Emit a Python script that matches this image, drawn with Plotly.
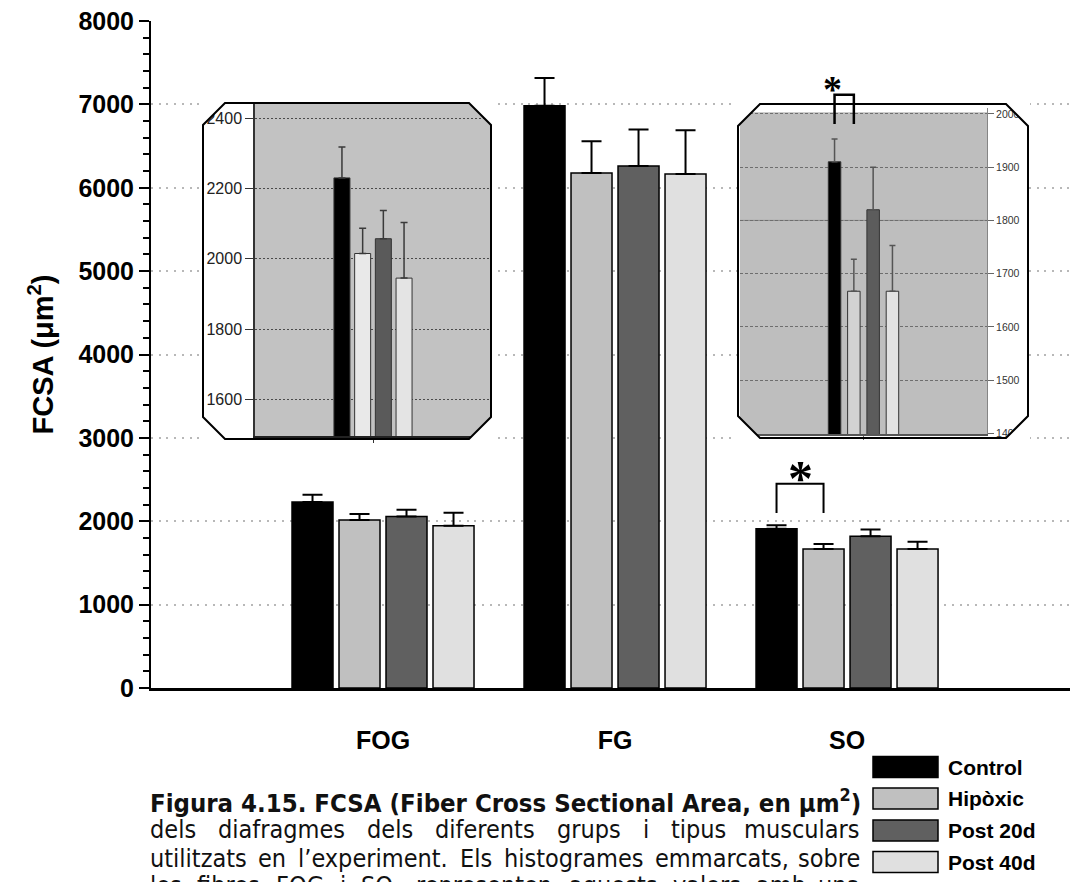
import plotly.graph_objects as go

# ---------------- data ----------------
fiber_types = ["FOG", "FG", "SO"]
group_names = ["Control", "Hipòxic", "Post 20d", "Post 40d"]

control_mean = [2230, 6985, 1910]
hipoxic_mean = [2015, 6178, 1667]
post20_mean = [2057, 6260, 1820]
post40_mean = [1945, 6165, 1667]

control_sem = [88, 330, 43]
hipoxic_sem = [72, 380, 60]
post20_sem = [80, 440, 80]
post40_sem = [158, 525, 86]

main_y_ticks = [0, 1000, 2000, 3000, 4000, 5000, 6000, 7000, 8000]
fog_zoom_ticks = [1600, 1800, 2000, 2200, 2400]
so_zoom_ticks = [1400, 1500, 1600, 1700, 1800, 1900, 2000]

# significance bracket Control vs Hipòxic on SO fibres (low leg end, top)
so_bracket_main = [2100, 2450]
so_bracket_zoom = [1981, 2036]

caption_title = "Figura 4.15. FCSA (Fiber Cross Sectional Area, en μm<sup>2</sup>)"
caption_body = [
    "dels diafragmes dels diferents grups i tipus musculars",
    "utilitzats en l’experiment. Els histogrames emmarcats, sobre",
    "les fibres FOG i SO, representen aquests valors amb una",
]

means = [control_mean, hipoxic_mean, post20_mean, post40_mean]
sems = [control_sem, hipoxic_sem, post20_sem, post40_sem]

# ---------------- styles ----------------
main_colors = ["#000000", "#c0c0c0", "#606060", "#e0e0e0"]
fog_zoom_colors = ["#000000", "#e9e9e9", "#5a5a5a", "#e4e4e4"]
so_zoom_colors = ["#000000", "#d2d2d2", "#5c5c5c", "#e2e2e2"]

ARIAL = "Liberation Sans, Arial, sans-serif"
CAPTION_FONT = "DejaVu Sans Condensed, DejaVu Sans, sans-serif"
SERIF = "Liberation Serif, Times New Roman, serif"

W, H = 1070, 882
ML, MR, MT, MB = 151, 0, 21, 194
PW, PH = W - ML - MR, H - MT - MB


def px_x(px):
    return (px - ML) / PW


def px_y(py):
    return (H - MB - py) / PH


fig = go.Figure()

# ---------------- main grouped bars ----------------
X_RANGE = [-1.0, 2.961]
pitch = 47 / 232
bar_w = 41 / 232
xpos = list(range(len(fiber_types)))
for i, name in enumerate(group_names):
    fig.add_trace(go.Bar(
        x=xpos, y=means[i], name=name,
        width=bar_w, offset=(i - 1.5) * pitch - bar_w / 2,
        marker=dict(color=main_colors[i], line=dict(color="black", width=1.5)),
        error_y=dict(type="data", array=sems[i], arrayminus=[0] * len(xpos),
                     symmetric=False, color="black", thickness=2, width=10),
        hoverinfo="skip", showlegend=False,
    ))

# significance bracket on the SO group
so_idx = fiber_types.index("SO")
xa_b = so_idx + (0 - 1.5) * pitch
xb_b = so_idx + (1 - 1.5) * pitch
fig.add_trace(go.Scatter(
    x=[xa_b, xa_b, xb_b, xb_b],
    y=[so_bracket_main[0], so_bracket_main[1], so_bracket_main[1], so_bracket_main[0]],
    mode="lines", line=dict(color="black", width=2),
    hoverinfo="skip", showlegend=False,
))
fig.add_annotation(x=(xa_b + xb_b) / 2, y=so_bracket_main[1], xref="x", yref="y",
                   text="*", showarrow=False, yanchor="middle", yshift=6,
                   font=dict(family=SERIF, size=50, color="black", weight="bold"))

# ---------------- inset panels ----------------
# frame boxes (pixel-space axes) : left, right, top, bottom, corner cut
frames = {
    "fog": dict(ax=("x2", "y2"), box=(203, 491, 103, 439), cut=22),
    "so": dict(ax=("x4", "y4"), box=(738, 1028, 104, 438), cut=22),
}

for key, fr in frames.items():
    fig.add_trace(go.Scatter(x=[], y=[], xaxis=fr["ax"][0], yaxis=fr["ax"][1],
                             hoverinfo="skip", showlegend=False))


def octagon(l, r, t, b, c):
    return (f"M {l + c},{t} L {r - c},{t} L {r},{t + c} L {r},{b - c} "
            f"L {r - c},{b} L {l + c},{b} L {l},{b - c} L {l},{t + c} Z")


def corners(l, r, t, b, c, e=2):
    return [
        f"M {l - e},{t - e} L {l + c + e},{t - e} L {l - e},{t + c + e} Z",
        f"M {r + e},{t - e} L {r - c - e},{t - e} L {r + e},{t + c + e} Z",
        f"M {r + e},{b + e} L {r - c - e},{b + e} L {r + e},{b - c - e} Z",
        f"M {l - e},{b + e} L {l + c + e},{b + e} L {l - e},{b - c - e} Z",
    ]


# zoomed bars
def add_zoom(k, xa, ya, colors, z_pitch, z_w, err_w, err_col):
    for i, name in enumerate(group_names):
        fig.add_trace(go.Bar(
            x=[0], y=[means[i][k]], name=name, xaxis=xa, yaxis=ya,
            width=z_w, offset=(i - 1.5) * z_pitch - z_w / 2,
            marker=dict(color=colors[i], line=dict(color="#333333", width=1)),
            error_y=dict(type="data", array=[sems[i][k]], arrayminus=[0],
                         symmetric=False, color=err_col, thickness=1.5, width=err_w),
            hoverinfo="skip", showlegend=False,
        ))


FOG_X = (255, 491)
FOG_Y = (436, 103)
FOG_YR = [1496, 2443]
SO_X = (740, 987)
SO_Y = (434, 108)
SO_YR = [1399, 2011]

fog_pitch, fog_w = 20.7 / (FOG_X[1] - FOG_X[0]), 16 / (FOG_X[1] - FOG_X[0])
so_pitch, so_w = 19.3 / (SO_X[1] - SO_X[0]), 12.5 / (SO_X[1] - SO_X[0])

add_zoom(fiber_types.index("FOG"), "x3", "y3", fog_zoom_colors, fog_pitch, fog_w, 3.5, "#3a3a3a")
add_zoom(so_idx, "x5", "y5", so_zoom_colors, so_pitch, so_w, 3, "#555555")

shapes = []
# white inset cards
for fr in frames.values():
    l, r, t, b = fr["box"]
    shapes.append(dict(type="path", xref=fr["ax"][0], yref=fr["ax"][1], layer="below",
                       path=octagon(l, r, t, b, fr["cut"]), fillcolor="white",
                       line=dict(width=0)))
# grey plotting areas
shapes.append(dict(type="rect", xref="x3", yref="y3", layer="below",
                   x0=-0.5, x1=0.5, y0=FOG_YR[0], y1=FOG_YR[1],
                   fillcolor="#c2c2c2", line=dict(width=0)))
shapes.append(dict(type="rect", xref="x5", yref="y5", layer="below",
                   x0=-0.5, x1=0.5, y0=SO_YR[0], y1=2003,
                   fillcolor="#bebebe", line=dict(width=0)))
shapes.append(dict(type="line", xref="x5", yref="y5", layer="below",
                   x0=-0.5, x1=0.5, y0=1800, y1=1800,
                   line=dict(color="#8a8a8a", width=1)))
# cut corners and outlines
for fr in frames.values():
    l, r, t, b = fr["box"]
    for p in corners(l, r, t, b, fr["cut"]):
        shapes.append(dict(type="path", xref=fr["ax"][0], yref=fr["ax"][1], layer="above",
                           path=p, fillcolor="white", line=dict(width=0)))
    shapes.append(dict(type="path", xref=fr["ax"][0], yref=fr["ax"][1], layer="above",
                       path=octagon(l, r, t, b, fr["cut"]), fillcolor="rgba(0,0,0,0)",
                       line=dict(color="black", width=2)))

# bracket on the SO inset, mapped through the inset axes
so_xdom = [px_x(SO_X[0]), px_x(SO_X[1])]
so_ydom = [px_y(SO_Y[0]), px_y(SO_Y[1])]


def so_x_paper(v):
    return so_xdom[0] + (v + 0.5) * (so_xdom[1] - so_xdom[0])


def so_y_paper(v):
    return so_ydom[0] + (v - SO_YR[0]) / (SO_YR[1] - SO_YR[0]) * (so_ydom[1] - so_ydom[0])


zx0 = so_x_paper((0 - 1.5) * so_pitch)
zx1 = so_x_paper((1 - 1.5) * so_pitch)
zy0, zy1 = so_y_paper(so_bracket_zoom[0]), so_y_paper(so_bracket_zoom[1])
shapes.append(dict(type="path", xref="paper", yref="paper", layer="above",
                   path=f"M {zx0},{zy0} L {zx0},{zy1} L {zx1},{zy1} L {zx1},{zy0}",
                   line=dict(color="black", width=2.5)))
fig.add_annotation(x=(zx0 + zx1) / 2, y=zy1, xref="paper", yref="paper", text="*",
                   showarrow=False, yanchor="middle", yshift=6,
                   font=dict(family=SERIF, size=38, color="black", weight="bold"))

# ---------------- legend ----------------
leg_x0, leg_x1 = 873, 938
leg_rows = [767, 798.5, 830.5, 862]
for i, name in enumerate(group_names):
    yc = leg_rows[i]
    shapes.append(dict(type="rect", xref="paper", yref="paper", layer="above",
                       x0=px_x(leg_x0), x1=px_x(leg_x1),
                       y0=px_y(yc + 10.5), y1=px_y(yc - 10.5),
                       fillcolor=main_colors[i], line=dict(color="black", width=1.5)))
    fig.add_annotation(x=px_x(946), y=px_y(yc), xref="paper", yref="paper",
                       text=f"<b>{name}</b>", showarrow=False,
                       xanchor="left", yanchor="middle",
                       font=dict(family=ARIAL, size=21, color="black"))

# ---------------- caption ----------------
WIDTHS = {
    'a': .613, 'b': .635, 'c': .550, 'd': .635, 'e': .615, 'f': .352, 'g': .635,
    'h': .634, 'i': .278, 'j': .278, 'k': .579, 'l': .278, 'm': .974, 'n': .634,
    'o': .612, 'p': .635, 'q': .635, 'r': .411, 's': .521, 't': .392, 'u': .634,
    'v': .592, 'w': .818, 'x': .592, 'y': .592, 'z': .525, 'E': .632, 'F': .575,
    'G': .775, 'O': .787, 'S': .635, '.': .318, ',': .318, '’': .318,
}
CAP_SIZE = 25
CAP_SCALE = 0.9
CAP_LEFT, CAP_RIGHT = 148, 862
cap_mid = [801, 830, 858.5, 886]


def word_w(w):
    return sum(WIDTHS.get(ch, 0.6) for ch in w) * CAP_SIZE * CAP_SCALE


fig.add_annotation(x=px_x(CAP_LEFT), y=px_y(cap_mid[0]), xref="paper", yref="paper",
                   text=f"<b>{caption_title}</b>", showarrow=False,
                   xanchor="left", yanchor="middle",
                   font=dict(family=CAPTION_FONT, size=25.5, color="#111111"))
for li, line in enumerate(caption_body):
    words = line.split(" ")
    widths = [word_w(w) for w in words]
    gap = (CAP_RIGHT - CAP_LEFT - sum(widths)) / (len(words) - 1)
    x = CAP_LEFT
    for wi, w in enumerate(words):
        last = wi == len(words) - 1
        fig.add_annotation(x=px_x(CAP_RIGHT if last else x), y=px_y(cap_mid[li + 1]),
                           xref="paper", yref="paper", text=w, showarrow=False,
                           xanchor="right" if last else "left", yanchor="middle",
                           font=dict(family=CAPTION_FONT, size=CAP_SIZE, color="#111111"))
        x += widths[wi] + gap

# ---------------- axes & layout ----------------
bold = dict(family=ARIAL, size=25, color="black", weight="bold")
fig.update_layout(
    width=W, height=H, template="none",
    margin=dict(l=ML, r=MR, t=MT, b=MB, pad=0),
    paper_bgcolor="white", plot_bgcolor="rgba(0,0,0,0)",
    barmode="overlay", showlegend=False, hovermode=False,
    font=dict(family=ARIAL),
    shapes=shapes,
    xaxis=dict(domain=[0, 1], range=X_RANGE, tickvals=xpos, ticktext=fiber_types,
               ticks="", showline=True, linecolor="black", linewidth=2.5,
               showgrid=False, zeroline=False, tickfont=bold, ticklabelstandoff=28,
               fixedrange=True, automargin=False),
    yaxis=dict(domain=[0, 1], range=[0, 8000], tickvals=main_y_ticks,
               ticks="outside", ticklen=10, tickwidth=2, tickcolor="black",
               minor=dict(dtick=200, tick0=0, ticks="outside", ticklen=6, tickwidth=2,
                          tickcolor="black", showgrid=False),
               showline=True, linecolor="black", linewidth=2,
               showgrid=True, gridcolor="#b8b8b8", gridwidth=1.5, griddash="2px,5.7px",
               zeroline=False, tickfont=bold, fixedrange=True, automargin=False,
               title=dict(text="<b>FCSA (μm<sup>2</sup>)</b>", standoff=16,
                          font=dict(family=ARIAL, size=29, color="black"))),
    xaxis2=dict(domain=[px_x(201), px_x(493)], range=[201, 493], visible=False,
                anchor="y2", fixedrange=True),
    yaxis2=dict(domain=[px_y(441), px_y(101)], range=[441, 101], visible=False,
                anchor="x2", fixedrange=True),
    xaxis4=dict(domain=[px_x(736), px_x(1030)], range=[736, 1030], visible=False,
                anchor="y4", fixedrange=True),
    yaxis4=dict(domain=[px_y(440), px_y(102)], range=[440, 102], visible=False,
                anchor="x4", fixedrange=True),
    xaxis3=dict(domain=[px_x(FOG_X[0]), px_x(FOG_X[1])], range=[-0.5, 0.5], anchor="y3",
                tickvals=[0], ticks="outside", ticklen=5, tickcolor="#333333",
                showticklabels=False, showline=True, linecolor="#222222", linewidth=2,
                showgrid=False, zeroline=False, fixedrange=True),
    yaxis3=dict(domain=[px_y(FOG_Y[0]), px_y(FOG_Y[1])], range=FOG_YR, anchor="x3",
                tickvals=fog_zoom_ticks, ticks="outside", ticklen=8, tickcolor="#333333",
                tickfont=dict(family=ARIAL, size=16, color="#222222"),
                showline=True, linecolor="#333333", linewidth=1.5,
                showgrid=True, gridcolor="#4a4a4a", gridwidth=1, griddash="2px,2px",
                zeroline=False, fixedrange=True),
    xaxis5=dict(domain=[px_x(SO_X[0]), px_x(SO_X[1])], range=[-0.5, 0.5], anchor="y5",
                tickvals=[0], ticks="outside", ticklen=4, tickcolor="#666666",
                showticklabels=False, showline=True, linecolor="#555555", linewidth=2,
                showgrid=False, zeroline=False, fixedrange=True),
    yaxis5=dict(domain=[px_y(SO_Y[0]), px_y(SO_Y[1])], range=SO_YR, anchor="x5",
                side="right", tickvals=so_zoom_ticks, ticks="outside", ticklen=6,
                tickcolor="#666666",
                tickfont=dict(family=ARIAL, size=10.5, color="#333333"),
                showline=True, linecolor="#858585", linewidth=1,
                showgrid=True, gridcolor="#6e6e6e", gridwidth=1, griddash="3px,2px",
                zeroline=False, fixedrange=True),
)

fig.write_html("out.html")
